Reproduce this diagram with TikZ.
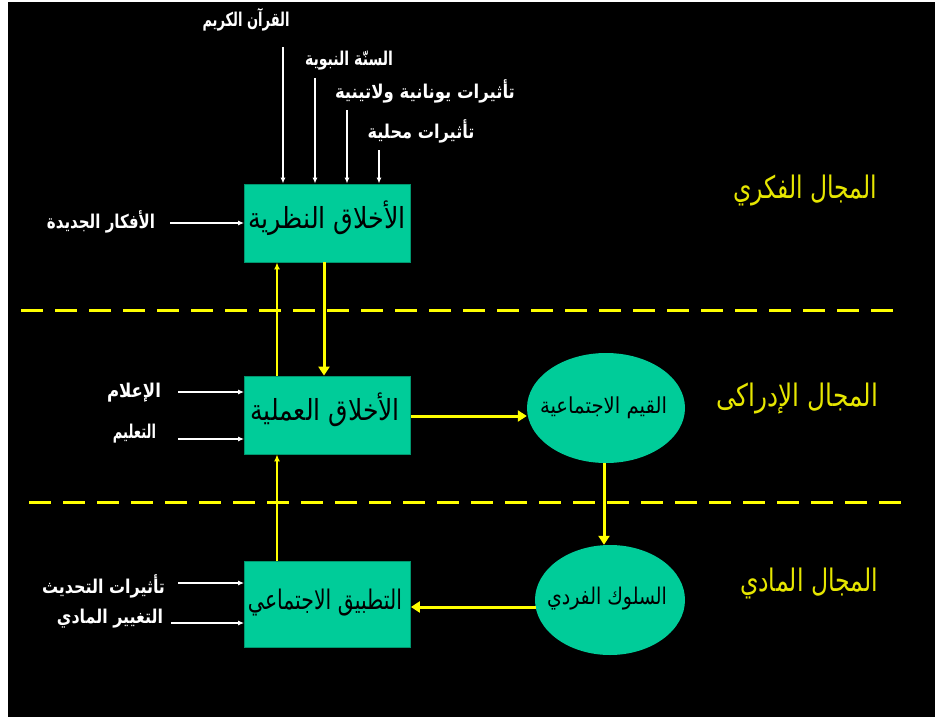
\documentclass[tikz,border=0pt]{standalone}
\usepackage{fontspec}
\usepackage{graphicx}
\usetikzlibrary{arrows.meta,shapes.geometric}
\newfontfamily\ar[Script=Arabic]{DejaVu Sans}
\newfontfamily\arb[Script=Arabic]{DejaVu Sans Bold}
\TeXXeTstate=1
\newcommand\ARw[3]{\resizebox{#1pt}{\height}{\fontsize{#2}{#2}\ar #3}}
\newcommand\ARb[3]{\resizebox{#1pt}{\height}{\fontsize{#2}{#2}\arb #3}}
\definecolor{teal1}{RGB}{0,204,153}
\definecolor{tealdk}{RGB}{0,150,110}
\definecolor{ylw}{RGB}{255,255,0}
\definecolor{ytxt}{RGB}{230,230,0}
\begin{document}
\begin{tikzpicture}[x=1pt,y=-1pt,
  boxn/.style={rectangle,fill=teal1,draw=tealdk,line width=0.8pt,inner sep=0pt},
  elln/.style={ellipse,fill=teal1,draw=none,inner sep=0pt},
  wlab/.style={text=white,inner sep=0pt,anchor=base},
  ylab/.style={text=ytxt,inner sep=0pt,anchor=base},
  ilab/.style={text=black,inner sep=0pt,anchor=base},
  warr/.style={draw=white,line width=1.2pt,-{Latex[length=6pt,width=5pt]}},
  ythin/.style={draw=ylw,line width=1.5pt,-{Latex[length=7pt,width=6pt]}},
  ythick/.style={draw=ylw,line width=3pt,-{Triangle[length=9pt,width=11pt]}},
  ydash/.style={draw=ylw,line width=3pt,dash pattern=on 22pt off 12pt}]
\useasboundingbox (0,0) rectangle (935,717);
\fill[white] (0,0) rectangle (935,717);
\fill[black] (8,2) rectangle (935,717);

% dashed separators
\draw[ydash] (21,310) -- (895,310);
\draw[ydash] (29,502) -- (902,502);

% boxes and ellipses
\node[boxn,minimum width=166pt,minimum height=78pt] (b1) at (327.5,223) {};
\node[boxn,minimum width=166pt,minimum height=78pt] (b2) at (327.5,415) {};
\node[boxn,minimum width=166pt,minimum height=86pt] (b3) at (327.5,604) {};
\node[elln,minimum width=158pt,minimum height=110pt] (e1) at (606,408) {};
\node[elln,minimum width=150pt,minimum height=110pt] (e2) at (610,600) {};

% inner texts
\node[ilab] (tb1) at (327,228) {\ARw{158}{29}{\beginR الأخلاق النظرية\endR}};
\node[ilab] (tb2) at (325,420) {\ARw{150}{29}{\beginR الأخلاق العملية\endR}};
\node[ilab] (tb3) at (325,609) {\ARw{154}{27}{\beginR التطبيق الاجتماعي\endR}};
\node[ilab] (te1) at (603.5,413) {\ARw{127}{22}{\beginR القيم الاجتماعية\endR}};
\node[ilab] (te2) at (607,604) {\ARw{120}{23}{\beginR السلوك الفردي\endR}};

% right domain labels
\node[ylab] (d1) at (805,198) {\ARw{144}{31}{\beginR المجال الفكري\endR}};
\node[ylab] (d2) at (797,406) {\ARw{162}{31}{\beginR المجال الإدراكى\endR}};
\node[ylab] (d3) at (809,591) {\ARw{138}{31}{\beginR المجال المادي\endR}};

% top labels and arrows
\node[wlab] (l1) at (246,27) {\ARb{87}{19}{\beginR القرآن الكريم\endR}};
\node[wlab] (l2) at (349,66) {\ARb{88}{19}{\beginR السنّة النبوية\endR}};
\node[wlab] (l3) at (425,98) {\ARb{180}{19}{\beginR تأثيرات يونانية ولاتينية\endR}};
\node[wlab] (l4) at (421,138) {\ARb{107}{19}{\beginR تأثيرات محلية\endR}};
\coordinate (q1) at (283,47);
\coordinate (q2) at (315,78);
\coordinate (q3) at (347,110);
\coordinate (q4) at (379,150);
\draw[warr] (q1) -- (q1 |- b1.north);
\draw[warr] (q2) -- (q2 |- b1.north);
\draw[warr] (q3) -- (q3 |- b1.north);
\draw[warr] (q4) -- (q4 |- b1.north);

% left labels and arrows
\node[wlab] (m1) at (101,228) {\ARb{108}{19}{\beginR الأفكار الجديدة\endR}};
\node[wlab] (m2) at (134,397) {\ARb{54}{19}{\beginR الإعلام\endR}};
\node[wlab] (m3) at (134.5,438) {\ARb{43}{19}{\beginR التعليم\endR}};
\node[wlab] (m4) at (103.5,593) {\ARb{123}{19}{\beginR تأثيرات التحديث\endR}};
\node[wlab] (m5) at (110,623) {\ARb{106}{19}{\beginR التغيير المادي\endR}};
\coordinate (p1) at (170,223);
\coordinate (p2) at (178,392);
\coordinate (p3) at (178,439);
\coordinate (p4) at (178,583);
\coordinate (p5) at (171,623);
\draw[warr] (p1) -- (p1 -| b1.west);
\draw[warr] (p2) -- (p2 -| b2.west);
\draw[warr] (p3) -- (p3 -| b2.west);
\draw[warr] (p4) -- (p4 -| b3.west);
\draw[warr] (p5) -- (p5 -| b3.west);

% yellow flow arrows
\draw[ythick] ([xshift=-3.5pt]b1.south) -- ([xshift=-3.5pt]b2.north);
\draw[ythin] ([xshift=-50.5pt]b2.north) -- ([xshift=-50.5pt]b1.south);
\draw[ythin] ([xshift=-50.5pt]b3.north) -- ([xshift=-50.5pt]b2.south);
\draw[ythick] ([yshift=-1pt]b2.east) -- ([yshift=-1pt]b2.east -| e1.west);
\draw[ythick] ([xshift=-2pt]e1.south) -- ([xshift=-2pt]e1.south |- e2.north);
\draw[ythick] ([yshift=-7pt,xshift=1pt]e2.west) -- ([yshift=-7pt]e2.west -| b3.east);
\end{tikzpicture}
\end{document}
